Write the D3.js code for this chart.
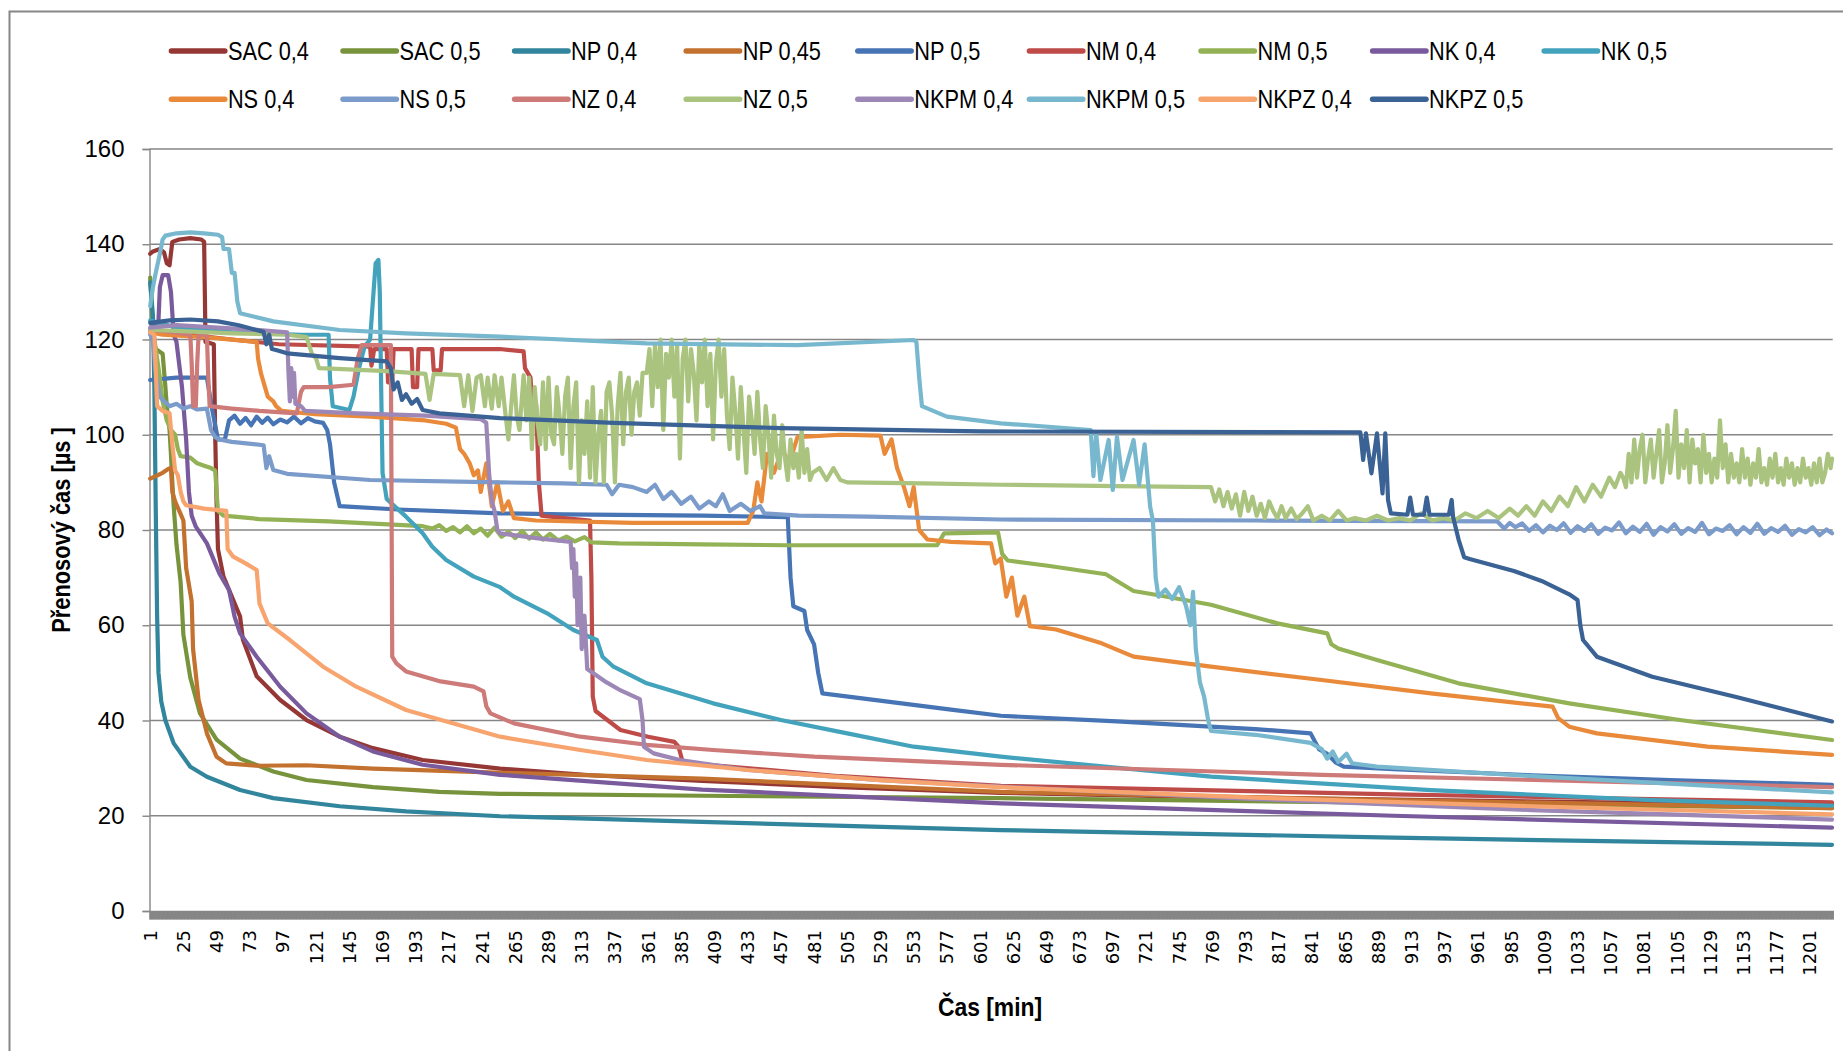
<!DOCTYPE html>
<html>
<head>
<meta charset="utf-8">
<script src="https://cdn.jsdelivr.net/npm/d3@7"></script>
<style>
  body { margin: 0; background: #fff; }
  svg { display: block; }
</style>
</head>
<body>
<svg id="chart" width="1843" height="1051"></svg>
<script>
// Transfer time of each mix over the curing period, one reading per minute.
const seriesNames = ["SAC 0,4", "SAC 0,5", "NP 0,4", "NP 0,45", "NP 0,5", "NM 0,4", "NM 0,5", "NK 0,4", "NK 0,5",
                     "NS 0,4", "NS 0,5", "NZ 0,4", "NZ 0,5", "NKPM 0,4", "NKPM 0,5", "NKPZ 0,4", "NKPZ 0,5"];
const seriesColors = ["#953735", "#77933C", "#31859C", "#C3712F", "#4674B4", "#BE4B48", "#93B255", "#795A9C", "#43A3BD",
                      "#E98A3B", "#7B9BCB", "#CD7A78", "#AAC47F", "#9C87B6", "#78B8CE", "#F7A46F", "#3A6294"];

// [minute, µs]
const sac04 = [[1,138],[3,138.5],[8,139],[11,138.3],[13,136],[15,135.6],[17,140.5],[22,141],[30,141.3],[38,141],[40,140.5],
  [41,119.5],[47,119],[48,100],[49,86],[50,76],[54,70.2],[60,66],[66,61.8],[68,57],[78,49.3],[95,44.3],[114,40.1],[138,36.6],
  [162,34.2],[198,31.7],[254,29.9],[320,28.5],[400,27.3],[500,26],[616,24.8],[750,24],[900,23.4],[1050,22.8],[1217,22.3]];

const sac05 = [[1,133],[3,122],[5,118],[10,117],[12,110],[13,106],[15,101],[16,96],[17,90],[18,85],[20,77],[23,69],[25,58],
  [30,49],[37,41.5],[49,36],[66,32],[90,29.3],[114,27.5],[162,26],[210,25],[254,24.6],[400,24.2],[616,23.7],[900,22.7],[1217,21.6]];

const np04 = [[1,132],[3,125],[4,110],[5,85],[6,62],[7,50],[9,44],[12,40],[18,35.2],[30,30.3],[42,28.2],[66,25.4],[90,23.7],
  [138,22],[186,20.9],[254,19.9],[400,18.7],[616,17],[900,15.4],[1217,13.9]];

const np045 = [[1,90.8],[5,91.3],[10,92],[14,92.8],[16,93],[17,88],[19,86],[22,84],[25,82],[27,72],[31,65],[32,55],[36,44.3],
  [42,37.3],[49,32.4],[56,31],[78,30.5],[114,30.6],[162,29.9],[235,29.2],[400,27.8],[616,25],[900,23.3],[1217,21.6]];

const np05 = [[1,111.5],[20,112],[42,112],[46,105],[50,99],[55,99],[58,103],[62,104],[66,102.3],[70,103.5],[74,102],[78,103.8],
  [82,102.5],[86,103.6],[90,102.2],[95,103.2],[100,102.6],[105,103.8],[110,102.4],[115,103.5],[120,102.8],[126,102.5],[129,101],
  [131,98],[134,90],[138,85],[180,84.3],[254,83.5],[300,83.3],[400,83],[462,82.7],[464,70],[466,64],[474,63],[476,59],[481,56],
  [484,50],[487,45.7],[520,44.5],[580,42.3],[616,41],[700,39.8],[800,38.2],[840,37.3],[846,34],[852,33],[858,31.2],[864,30.3],
  [900,29.8],[1000,28.5],[1100,27.5],[1217,26.5]];

const nm04 = [[1,122],[30,121],[60,120],[94,119],[160,118.5],[161,114.5],[163,118],[172,118],[173,111],[176,111],[177,118],
  [190,118],[191,110],[194,110],[195,118],[205,118],[206,113.5],[211,113.5],[212,118],[254,118],[271,117.5],[272,114],[276,112],
  [277,107],[280,106.5],[282,90],[284,83],[300,82.5],[319,82],[320,70],[321,45],[323,42],[341,38],[361,36.6],[380,35.5],
  [383,34.5],[386,31.3],[400,30.8],[500,28.3],[616,26.3],[900,24.5],[1217,22.8]];

const nm05 = [[1,122],[5,118],[8,112],[10,107],[13,103],[16,101],[19,100],[21,97],[23,95.5],[30,95.2],[35,94],[40,93.5],[45,93],
  [48,92.5],[49,88],[50,84],[54,83],[80,82.3],[130,81.8],[198,80.8],[205,80.3],[210,81],[215,79.8],[220,80.6],[225,79.5],
  [230,80.8],[235,79.3],[240,80.3],[245,78.8],[250,80.5],[255,78.6],[260,79.6],[265,78.3],[270,79.8],[275,78.2],[280,79.5],
  [285,78],[290,79.2],[296,77.8],[302,78.6],[308,77.6],[315,78.5],[320,77.4],[340,77.2],[400,77],[460,76.8],[570,76.8],
  [575,79.3],[614,79.5],[617,75],[621,73.6],[650,72.5],[692,70.7],[700,69.3],[712,67.2],[730,66.3],[768,64.3],[816,60.4],
  [852,58.3],[855,56],[860,55.1],[888,52.7],[947,47.8],[1027,43.6],[1107,40.1],[1217,35.9]];

const nk04 = [[1,122],[5,122.5],[7,124],[8,131],[10,133.5],[14,133.5],[16,130],[18,121],[20,119.5],[24,110],[27,99],[29,88],
  [31,83],[34,80.7],[42,77.2],[51,70.9],[58,67.4],[62,61.8],[66,58.3],[78,53.4],[95,47.1],[114,41.5],[138,36.6],[162,33.5],
  [198,30.7],[254,28.6],[400,25.5],[616,22.6],[900,20],[1217,17.5]];

const nk05 = [[1,124],[20,122.5],[60,121.5],[110,121],[130,121],[131,112],[133,106],[145,105.2],[148,108],[152,114],[156,118.5],
  [160,120],[162,128],[164,136],[166,136.7],[167,130],[168,110],[169,92],[172,86.5],[186,82.8],[198,79.3],[205,76.5],[215,73.7],
  [235,70.2],[254,68],[264,66],[288,62.5],[307,59],[324,56.9],[328,53.4],[336,51.3],[360,47.8],[408,43.6],[457,40.1],[505,37.3],
  [553,34.5],[616,32.4],[768,28.2],[927,25.4],[1087,23.3],[1217,22.1]];

const ns04 = [[1,121.5],[10,121],[40,120.5],[78,119.5],[79,116],[81,113],[84,110],[86,108],[90,107],[92,106],[96,105],
  [120,104.3],[160,103.8],[200,103],[215,102.3],[222,101.5],[225,97],[228,96],[232,94],[235,91.5],[238,92.5],[240,88],[244,94],
  [248,85],[252,90],[256,84],[260,86],[264,82.5],[280,82],[350,81.5],[433,81.5],[437,84],[440,90],[443,86],[447,96],[452,92],
  [458,97],[463,94],[469,99.5],[500,100],[529,99.8],[532,96],[537,99],[541,93],[546,89],[550,85],[553,89],[557,80],[563,78],
  [580,77.5],[609,77.2],[612,73],[616,74],[620,66],[624,70],[628,62],[633,66],[637,59.8],[656,59.1],[689,56.2],[712,53.4],
  [768,51.3],[848,48.5],[927,45.7],[1015,42.9],[1019,40.5],[1027,38.7],[1047,37.3],[1127,34.5],[1217,32.8]];

const ns05 = [[1,121],[3,120],[5,113],[8,108],[10,107.3],[15,106],[20,106.5],[25,105.5],[30,106],[35,105.3],[42,105.5],[45,101],
  [48,99.5],[51,99],[60,98.5],[83,97.8],[85,93],[87,95.5],[90,92.6],[100,91.8],[160,90.5],[254,90],[300,89.8],[331,89.5],
  [335,87.5],[340,89.5],[350,89],[360,88],[366,89.5],[372,86.5],[378,88],[385,85.5],[392,87],[398,84.5],[405,86],[410,85],
  [415,87.5],[420,84],[428,85.5],[435,84],[442,85],[445,83.5],[470,83],[520,82.8],[616,82.2],[800,82],[975,81.8],[980,80.3],
  [984,81.5],[988,80.6],[993,81.4],[998,79.8],[1003,81],[1008,79.5],[1013,80.9],[1018,80],[1023,81.4],[1028,79.4],[1033,80.8],
  [1038,79.8],[1043,81.2],[1048,79.2],[1053,80.5],[1058,79.9],[1063,81.6],[1068,79.3],[1073,80.7],[1078,79.6],[1083,81.3],
  [1088,79],[1093,80.6],[1098,79.7],[1103,81.2],[1108,79.2],[1113,80.4],[1118,79.6],[1123,81.5],[1128,79.1],[1133,80.3],
  [1138,79.8],[1143,81],[1148,79.1],[1153,80.6],[1158,79.4],[1163,81.3],[1168,79.2],[1173,80.4],[1178,79.6],[1183,80.9],
  [1188,79],[1193,80.2],[1198,79.5],[1203,80.6],[1208,78.9],[1213,80.1],[1217,79.3]];

const nz04 = [[1,122],[10,121.8],[30,121],[31,115],[32,106],[34,106],[35,115],[36,121],[42,121],[43,112],[44,106],[60,105.5],
  [80,105],[107,104.5],[110,109],[112,110],[130,110],[148,110.5],[151,116],[154,118.8],[175,118.8],[176,53.4],[179,52],
  [186,50.3],[211,48.2],[235,47.1],[242,46.1],[244,43],[247,41.5],[264,39.4],[312,36.6],[360,34.9],[408,33.8],[481,32.4],
  [616,30.7],[848,28.6],[1217,26]];

const nz05 = [[1,122],[20,121.8],[60,121.3],[100,121],[114,120.5],[118,117],[121,116],[123,114],[140,113.8],[160,113.5],
  [175,113.3],[190,113],[200,112.8],[203,107.3],[206,112.8],[225,112.5],[228,106],[231,112.5],[234,105],[237,112],[240,112.5],
  [243,106],[245,112],[248,105.5],[250,112.5],[253,106],[255,112],[258,104],[260,99],[262,106],[264,112.5],[266,104],[268,101],
  [271,112.5],[273,103],[275,112],[277,97],[279,110],[281,103],[283,98],[285,111],[287,97],[289,112],[291,100],[293,98],
  [295,110],[297,104],[299,96],[301,108],[303,112],[305,93],[307,106],[309,111],[311,90],[313,103],[315,96],[317,107],[319,91],
  [321,110],[323,90],[325,100],[327,105],[329,90],[331,109],[333,111],[335,104],[337,90],[339,106],[341,113],[343,98],[345,109],
  [347,112],[349,100],[351,109],[353,111],[355,104],[357,113],[360,113],[362,118],[364,106],[366,119],[368,110],[370,120],
  [372,101],[374,117],[376,112],[378,120],[380,108],[382,119],[384,95],[386,116],[388,120],[390,107],[392,118],[394,113],
  [396,103],[398,119],[400,111],[402,120],[404,106],[406,117],[408,99],[410,115],[412,120],[414,108],[416,118],[418,104],
  [420,97],[422,112],[424,105],[426,95],[428,110],[430,101],[432,92],[434,108],[436,103],[438,96],[440,109],[442,99],[444,93],
  [446,106],[448,100],[450,91],[452,104],[454,96],[456,93],[458,102],[460,95],[462,90.5],[464,99],[466,93],[468,96],[470,91],
  [472,101],[474,92],[476,97],[478,90.5],[480,92],[485,93],[490,90.5],[495,93],[500,90.5],[505,90],[560,89.8],[616,89.5],
  [700,89.2],[768,89],[771,86],[774,88.5],[777,85],[780,88],[783,84.5],[786,87.5],[789,83],[792,88],[795,84],[798,87],[801,83],
  [804,85.5],[807,82.5],[810,86],[813,84],[816,82.5],[819,85],[822,82.5],[826,84.5],[830,82.3],[834,83.5],[838,85],[842,82],
  [848,83],[854,82],[860,84],[866,82],[872,82.5],[880,82],[888,83],[896,82],[904,82.5],[912,82],[920,83.5],[928,82],[936,82.5],
  [944,82],[952,83.5],[960,82.5],[968,84],[976,82.5],[984,84.5],[990,83],[996,85],[1002,83],[1008,86],[1014,84],[1020,87],
  [1026,85],[1032,89],[1038,86],[1044,89.5],[1050,87],[1056,91],[1060,89],[1064,92],[1066,91],[1068,89],[1070,96],[1072,90],
  [1074,99],[1076,91],[1078,97],[1080,100],[1082,90],[1084,95],[1086,99],[1088,91],[1090,96],[1092,101],[1094,90],[1096,94],
  [1098,102],[1100,92],[1102,97],[1104,105],[1106,91],[1108,98],[1110,93],[1112,101],[1114,90],[1116,99],[1118,94],[1120,97],
  [1122,90],[1124,100],[1126,92],[1128,96],[1130,90],[1132,95],[1134,91],[1136,103],[1138,93],[1140,98],[1142,90],[1144,96],
  [1146,91],[1148,94],[1150,90],[1152,97],[1154,91],[1156,95],[1158,89.5],[1160,94],[1162,91],[1164,97],[1166,90],[1168,93],
  [1170,89.5],[1172,95],[1174,91],[1176,96],[1178,90],[1180,93],[1182,89.5],[1184,95],[1186,91],[1188,94],[1190,89.5],
  [1192,93],[1194,90],[1196,95],[1198,91],[1200,93],[1202,89.5],[1204,94],[1206,90],[1208,95],[1210,90],[1212,92],[1214,96],
  [1216,93],[1217,95]];

const nkpm04 = [[1,122.5],[20,123],[50,122.5],[80,122],[100,121.5],[101,113],[102,107],[103,114],[104,108],[105,113],
  [106,106.5],[110,106],[113,105],[150,104.5],[200,104],[240,103.3],[244,102.5],[246,92],[248,86],[250,84],[252,80],[254,79.3],
  [280,78.3],[305,77.5],[306,72],[307,76],[308,66],[309,73],[310,60],[312,70],[313,55],[315,62],[317,50.8],[331,48],[340,46.5],
  [355,44.5],[357,40],[358,34.5],[365,33.1],[384,31.7],[433,29.6],[529,27.5],[616,26.1],[800,23.5],[1000,21.2],[1217,19.2]];

const nkpm05 = [[1,127],[3,131],[5,134],[8,138],[10,141],[12,141.8],[20,142.3],[30,142.5],[40,142.3],[50,142],[53,141.5],
  [54,139],[58,139],[60,134],[62,134],[64,128],[66,125.5],[90,123.8],[138,122],[186,121.3],[254,120.6],[360,119.2],[469,118.8],
  [553,119.9],[555,119.5],[557,112],[559,106],[577,103.8],[616,102.4],[681,101],[683,91.3],[685,100.3],[688,90.5],[694,98.9],
  [697,88.4],[700,99.6],[704,90.5],[712,98.9],[716,89.5],[720,98],[724,84.9],[726,82],[728,70],[730,66],[735,67.5],[740,65.5],
  [745,68],[750,64],[753,60],[755,67],[757,55],[760,48],[763,45],[766,40],[768,37.8],[800,37],[840,35.3],[848,34],[852,32],
  [856,33.5],[860,31.3],[866,33],[870,31],[888,30.3],[1007,28.2],[1217,24.9]];

const nkpz04 = [[1,121.5],[4,121],[5,114],[6,106],[10,105],[15,104.5],[17,98],[19,92.5],[21,91.5],[23,88],[25,86],[27,85.2],
  [40,84.5],[56,84],[57,76],[61,74.4],[70,73],[78,71.6],[80,64.6],[86,60.4],[102,56.9],[126,51.3],[150,47.1],[186,42.2],
  [254,36.6],[312,33.8],[360,31.7],[433,29.6],[529,27.5],[616,26],[800,23.8],[1000,22],[1217,20.3]];

const nkpz05 = [[1,123.5],[15,124],[30,124.2],[50,123.8],[65,123],[83,121.6],[85,119],[87,121],[89,118],[92,117.8],[100,117.1],
  [138,116.1],[172,115.4],[175,114],[177,109.5],[180,111],[183,107.3],[186,108.5],[190,106.5],[194,107.5],[198,105.2],
  [210,104.5],[254,103.5],[336,102.5],[457,101.4],[602,100.7],[876,100.5],[878,94.7],[880,100.3],[884,91.9],[888,100.3],
  [892,87.7],[894,100.3],[896,86.3],[898,83.5],[910,83.2],[912,86.8],[914,83.2],[922,83.2],[924,86.8],[926,83.2],[940,83.2],
  [942,86.3],[943,82.8],[947,78],[951,74.3],[955,73.9],[987,71.4],[1007,69.3],[1027,66.5],[1033,65.3],[1035,60],[1037,56.9],
  [1047,53.4],[1087,49.2],[1147,45],[1217,39.8]];

const seriesData = [sac04, sac05, np04, np045, np05, nm04, nm05, nk04, nk05,
                    ns04, ns05, nz04, nz05, nkpm04, nkpm05, nkpz04, nkpz05];

const minuteCount = 1217;
const yTickValues = [0, 20, 40, 60, 80, 100, 120, 140, 160];
const xTickLabels = [1, 25, 49, 73, 97, 121, 145, 169, 193, 217, 241, 265, 289, 313, 337, 361, 385, 409, 433, 457, 481, 505,
  529, 553, 577, 601, 625, 649, 673, 697, 721, 745, 769, 793, 817, 841, 865, 889, 913, 937, 961, 985, 1009, 1033, 1057, 1081,
  1105, 1129, 1153, 1177, 1201];

const svg = d3.select("#chart");
const gray = "#868686";
const plot = { left: 149.5, right: 1832.7, top: 149, bottom: 911 };

const x = d3.scaleLinear().domain([0.5, minuteCount + 0.5]).range([plot.left, plot.right]);
const y = d3.scaleLinear().domain([0, 160]).range([plot.bottom, plot.top]);

// chart frame
svg.append("rect")
  .attr("x", 9.5).attr("y", 11.5).attr("width", 1900).attr("height", 1100)
  .attr("fill", "none").attr("stroke", gray).attr("stroke-width", 2);

// horizontal gridlines
svg.append("g").selectAll("line")
  .data(yTickValues.filter(v => v > 0))
  .join("line")
  .attr("x1", plot.left).attr("x2", plot.right)
  .attr("y1", d => y(d)).attr("y2", d => y(d))
  .attr("stroke", gray).attr("stroke-width", 1.4);

// value axis
const yAxis = svg.append("g")
  .attr("transform", `translate(${plot.left},0)`)
  .call(d3.axisLeft(y).tickValues(yTickValues).tickSize(7).tickPadding(18).tickFormat(d3.format("d")));
yAxis.select(".domain").attr("stroke", gray).attr("stroke-width", 1.4);
yAxis.selectAll(".tick line").attr("stroke", gray).attr("stroke-width", 1.4);
yAxis.selectAll(".tick text")
  .attr("font-family", "'Liberation Sans', Arial, sans-serif")
  .attr("font-size", 24).attr("fill", "#000");

// category axis: one tick per minute forms the dense band under the plot
const catAxis = svg.append("g")
  .attr("transform", `translate(0,${plot.bottom})`)
  .call(d3.axisBottom(x).tickValues(d3.range(1, minuteCount + 1)).tickSize(8.5).tickFormat(""));
catAxis.select(".domain").attr("stroke", gray).attr("stroke-width", 1.4);
catAxis.selectAll(".tick line").attr("stroke", gray).attr("stroke-width", 2.2);

// rotated minute labels
svg.append("g").selectAll("text")
  .data(xTickLabels)
  .join("text")
  .attr("transform", d => `translate(${x(d)},930) rotate(-90)`)
  .attr("text-anchor", "end")
  .attr("dy", "0.36em")
  .attr("font-family", "'DejaVu Sans', sans-serif")
  .attr("font-size", 18)
  .attr("fill", "#000")
  .text(d => d);

// series lines
const line = d3.line().x(d => x(d[0])).y(d => y(d[1]));
svg.append("g").selectAll("path")
  .data(seriesData)
  .join("path")
  .attr("d", line)
  .attr("fill", "none")
  .attr("stroke", (d, i) => seriesColors[i])
  .attr("stroke-width", 4.2)
  .attr("stroke-linejoin", "round")
  .attr("stroke-linecap", "round");

// axis titles (condensed sans)
const textFont = "'Liberation Sans', Arial, sans-serif";
svg.append("text")
  .attr("transform", "translate(990,1016) scale(0.88,1)")
  .attr("text-anchor", "middle")
  .attr("font-family", textFont).attr("font-weight", "bold").attr("font-size", 26)
  .text("Čas [min]");
svg.append("text")
  .attr("transform", "translate(70,530) rotate(-90) scale(0.84,1)")
  .attr("text-anchor", "middle")
  .attr("font-family", textFont).attr("font-weight", "bold").attr("font-size", 26)
  .text("Přenosový čas [µs ]");

// legend, two rows of nine columns
const legend = svg.append("g").selectAll("g")
  .data(seriesNames)
  .join("g")
  .attr("transform", (d, i) => `translate(${171.4 + (i % 9) * 171.6},${i < 9 ? 51 : 99.3})`);
legend.append("line")
  .attr("x1", 0).attr("x2", 53.4).attr("y1", 0).attr("y2", 0)
  .attr("stroke", (d, i) => seriesColors[i])
  .attr("stroke-width", 5.5).attr("stroke-linecap", "round");
legend.append("text")
  .attr("transform", "translate(56.5,0) scale(0.87,1)")
  .attr("dy", "0.35em")
  .attr("font-family", textFont).attr("font-size", 25).attr("fill", "#000")
  .text(d => d);
</script>
</body>
</html>
